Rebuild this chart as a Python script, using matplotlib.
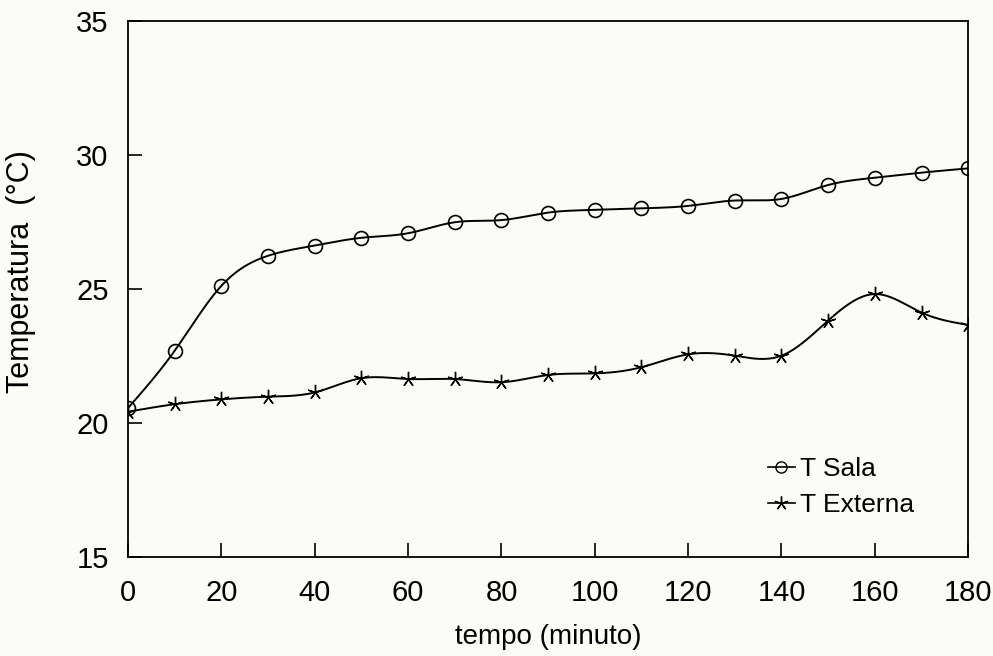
import matplotlib.pyplot as plt
import numpy as np

plt.rcParams['font.family'] = ['Liberation Sans', 'DejaVu Sans']

tempo = [0, 10, 20, 30, 40, 50, 60, 70, 80, 90,
         100, 110, 120, 130, 140, 150, 160, 170, 180]
t_sala = [20.56, 22.70, 25.12, 26.24, 26.62, 26.91, 27.08, 27.49, 27.57, 27.85,
          27.95, 28.01, 28.10, 28.30, 28.36, 28.88, 29.15, 29.34, 29.50]
t_externa = [20.42, 20.70, 20.88, 20.98, 21.14, 21.67, 21.64, 21.64, 21.52, 21.79,
             21.85, 22.08, 22.56, 22.51, 22.51, 23.82, 24.81, 24.12, 23.66]


def spline(x, y, n=400):
    # natural cubic spline through the measured points
    x = np.asarray(x, float)
    y = np.asarray(y, float)
    h = np.diff(x)
    m = len(x)
    A = np.zeros((m, m))
    b = np.zeros(m)
    A[0, 0] = A[-1, -1] = 1
    for i in range(1, m - 1):
        A[i, i - 1] = h[i - 1]
        A[i, i] = 2 * (h[i - 1] + h[i])
        A[i, i + 1] = h[i]
        b[i] = 6 * ((y[i + 1] - y[i]) / h[i] - (y[i] - y[i - 1]) / h[i - 1])
    M = np.linalg.solve(A, b)
    xs = np.linspace(x[0], x[-1], n)
    k = np.clip(np.searchsorted(x, xs) - 1, 0, m - 2)
    dx1 = x[k + 1] - xs
    dx0 = xs - x[k]
    hk = h[k]
    ys = (M[k] * dx1**3 / (6 * hk) + M[k + 1] * dx0**3 / (6 * hk)
          + (y[k] / hk - M[k] * hk / 6) * dx1
          + (y[k + 1] / hk - M[k + 1] * hk / 6) * dx0)
    return xs, ys


fig = plt.figure(figsize=(9.93, 6.56), dpi=100, facecolor='#fbfbf8')
ax = fig.add_axes([0.129, 0.151, 0.846, 0.817])
ax.set_facecolor('#fbfbf8')

xs, ys = spline(tempo, t_sala)
ax.plot(xs, ys, color='black', lw=1.4)
ax.plot(tempo, t_sala, ls='none', marker='o', ms=10, mfc='none',
        mec='black', mew=1.2)
xs, ys = spline(tempo, t_externa)
ax.plot(xs, ys, color='black', lw=1.4)
ax.plot(tempo, t_externa, ls='none', marker=(5, 2, 0), ms=11,
        color='black', mew=1.0)

# legend handles: short line with marker
ax.plot([], [], color='black', lw=1.2, marker='o', ms=8, mfc='none',
        mec='black', label='T Sala')
ax.plot([], [], color='black', lw=1.2, marker=(5, 2, 0), ms=10,
        label='T Externa')
lines = ax.get_lines()[-2:]
ax.legend(handles=lines, loc='center left', bbox_to_anchor=(0.762, 0.13),
          frameon=False, fontsize=19, handlelength=1.0, handletextpad=0.2,
          labelspacing=0.45, borderpad=0, borderaxespad=0)

ax.set_xlim(0, 180)
ax.set_ylim(15, 35)
ax.set_xticks(range(0, 181, 20))
ax.set_yticks(range(15, 36, 5))
ax.tick_params(direction='in', length=10, width=1.2, labelsize=21,
               top=False, right=False)
ax.tick_params(axis='x', pad=16)
ax.tick_params(axis='y', pad=14)
for s in ax.spines.values():
    s.set_linewidth(1.3)

ax.set_xlabel('tempo (minuto)', fontsize=20, labelpad=12)
ax.set_ylabel('Temperatura  (°C)', fontsize=22)
ax.yaxis.set_label_coords(-0.11, 0.532)

fig.savefig('out.png', dpi=100, facecolor=fig.get_facecolor())
